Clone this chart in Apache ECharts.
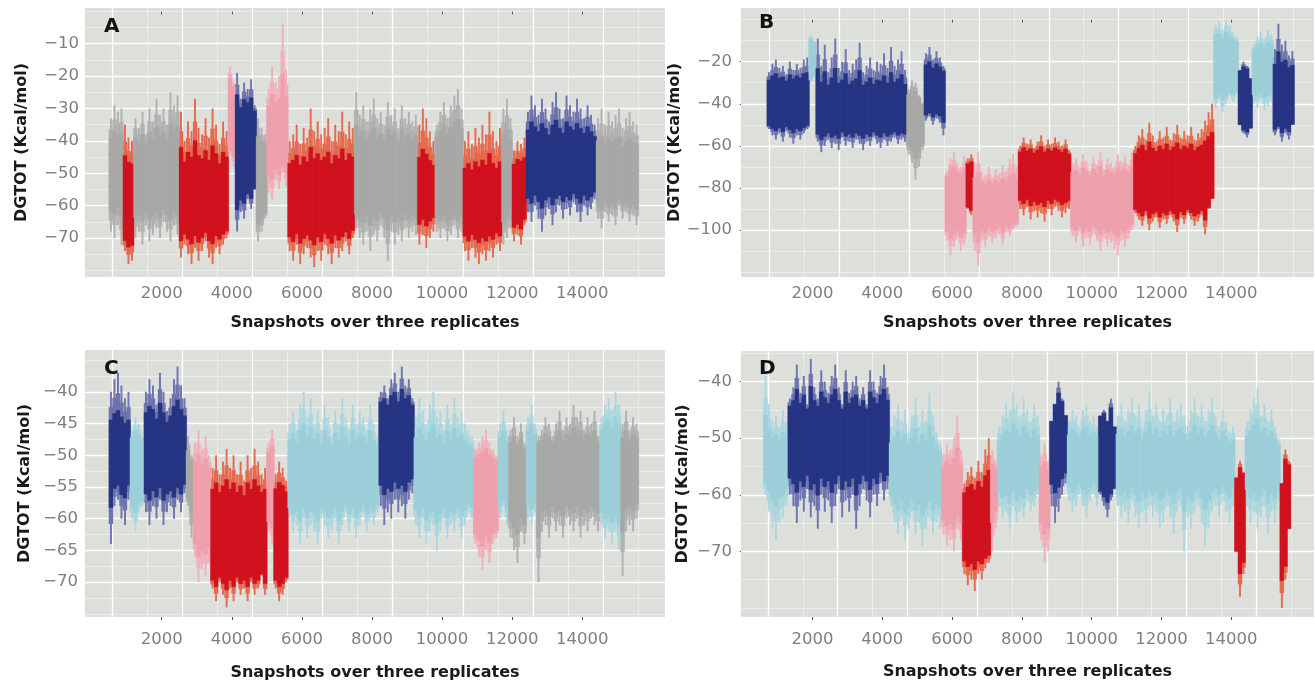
<!DOCTYPE html>
<html><head><meta charset="utf-8">
<script src="https://cdn.jsdelivr.net/npm/echarts@6/dist/echarts.min.js"></script>
<style>html,body{margin:0;padding:0;background:#fff}#c{width:1315px;height:687px}</style>
</head><body><div id="c"></div>
<script>
const BIN = 100;
const xTickLabels = [2000, 4000, 6000, 8000, 10000, 12000, 14000];

// ---------------- Panel A ----------------
const aStart = 500;
const aHigh = [
 -33,-29,-31,-30,
 -35,-39,-40,
 -33,-36,-31,-38,-30,-34,-27,-32,-30,-35,-25,-29,-26,
 -31,-40,-34,-37,-27,-36,-38,-33,-39,-30,-35,-41,-34,-37,
 -17,-22,
 -19,-27,-22,-24,-21,-29,
 -33,-36,-38,
 -24,-17,-22,-20,-4,-18,
 -40,-38,-35,-41,-36,-39,-30,-37,-34,-38,-36,-33,-40,-35,-37,-31,-38,-34,-36,
 -25,-32,-29,-34,-30,-27,-33,-31,-35,-28,-32,-30,-36,-29,-33,-31,-34,-32,
 -35,-30,-33,-37,-40,
 -35,-31,-28,-33,-29,-26,-24,-30,
 -40,-37,-41,-36,-39,-35,-38,-31,-37,-40,-36,
 -30,-27,-33,
 -43,-40,-41,-39,
 -31,-26,-29,-32,-27,-30,-34,-28,-25,-30,-33,-26,-29,-31,-27,-30,-33,-29,-32,-35,
 -33,-30,-35,-31,-34,-32,-30,-36,-33,-31,-34,-35
];
const aLow = [
 -68,-70,-66,-72,
 -74,-78,-77,
 -70,-68,-72,-66,-71,-69,-67,-70,-65,-68,-71,-66,-69,
 -76,-72,-75,-78,-73,-77,-74,-71,-76,-78,-73,-75,-72,-70,
 -44,-48,
 -68,-62,-64,-58,-61,-55,
 -71,-68,-64,
 -56,-58,-52,-55,-50,-54,
 -74,-77,-72,-78,-75,-73,-76,-79,-74,-77,-72,-75,-78,-73,-76,-74,-71,-75,-70,
 -67,-70,-72,-68,-74,-69,-71,-66,-70,-77,-68,-72,-69,-71,-67,-70,-68,-69,
 -72,-69,-73,-70,-68,
 -68,-70,-67,-71,-69,-66,-70,-68,
 -74,-77,-73,-76,-78,-75,-77,-74,-76,-72,-74,
 -72,-70,-67,
 -71,-69,-72,-66,
 -62,-65,-60,-64,-68,-63,-61,-66,-62,-60,-64,-61,-63,-59,-62,-65,-60,-63,-61,-58,
 -64,-67,-62,-65,-63,-66,-60,-64,-62,-65,-63,-66
];
// [start, end, colour group, dense-core low, dense-core high]
const aSegments = [
 [500,900,'gray',-62,-38],[900,1200,'red',-72,-46],[1200,2500,'gray',-63,-38],[2500,3900,'red',-70,-44],
 [3900,4100,'pink',-44,-22],[4100,4700,'blue',-58,-28],[4700,5000,'gray',-64,-40],[5000,5600,'pink',-50,-26],
 [5600,7500,'red',-70,-45],[7500,9300,'gray',-64,-38],[9300,9800,'red',-65,-45],[9800,10600,'gray',-64,-36],
 [10600,11700,'red',-70,-47],[11700,12000,'gray',-64,-38],[12000,12400,'red',-66,-46],
 [12400,14400,'blue',-58,-36],[14400,15600,'gray',-60,-40]
];
const aYTicks = [-70,-60,-50,-40,-30,-20,-10];
const aYMinor = [-80,-75,-65,-55,-45,-35,-25,-15,-5,0];
const aXGridMajor = [590,2590,4590,6590,8590,10590,12590,14590];
const aXGridMinor = [1590,3590,5590,7590,9590,11590,13590,15590];

// ---------------- Panel B ----------------
const bStart = 700;
const bHigh = [
 -25,-21,-19,-23,-22,-26,-20,-24,-21,-23,-19,-18,
 -7,-10,
 -9,-22,-12,-25,-18,-9,-23,-20,-14,-24,-21,-19,-11,-25,-22,-18,-24,-20,-21,-16,-23,-13,-22,-19,-15,-24,
 -33,-29,-30,-36,-40,
 -16,-13,-19,-15,-18,-22,
 -72,-66,-63,-68,-70,-65,
 -66,-64,
 -68,-63,-72,-74,-70,-75,-71,-73,-69,-72,-66,-64,-70,
 -60,-56,-59,-57,-61,-58,-55,-60,-57,-59,-56,-58,-60,-57,-62,
 -68,-66,-70,-64,-67,-72,-65,-69,-63,-71,-66,-68,-70,-64,-67,-65,-69,-63,
 -60,-55,-52,-57,-49,-55,-58,-53,-56,-51,-57,-54,-50,-56,-53,-55,-51,-57,-54,-52,-48,-44,-40,
 -2,-1,-5,0,-3,-6,-8,
 -24,-20,-22,-28,
 -12,-8,-6,-9,-5,-7,
 -14,-2,-12,-10,-17,-15
];
const bLow = [
 -52,-55,-57,-54,-58,-53,-56,-59,-55,-57,-54,-52,
 -30,-27,
 -58,-63,-60,-57,-61,-59,-62,-56,-60,-58,-61,-57,-59,-62,-58,-60,-56,-59,-61,-57,-60,-58,-56,-59,-57,-58,
 -64,-68,-76,-70,-62,
 -48,-46,-50,-47,-49,-55,
 -105,-112,-108,-104,-110,-107,
 -90,-93,
 -110,-117,-105,-108,-103,-106,-104,-102,-107,-101,-103,-100,-98,
 -90,-93,-89,-95,-91,-94,-92,-96,-90,-93,-89,-91,-94,-92,-90,
 -103,-106,-101,-108,-104,-107,-102,-105,-110,-104,-108,-106,-109,-112,-105,-108,-104,-100,
 -92,-95,-98,-93,-100,-96,-94,-99,-95,-97,-93,-96,-101,-94,-97,-92,-95,-98,-96,-93,-102,-90,-85,
 -42,-38,-44,-40,-36,-39,-35,
 -50,-54,-56,-52,
 -40,-42,-38,-43,-41,-39,
 -55,-52,-58,-54,-57,-50
];
const bSegments = [
 [700,1900,'blue',-52,-27],[1900,2100,'cyan',-28,-10],[2100,4700,'blue',-55,-28],[4700,5200,'gray',-62,-36],
 [5200,5800,'blue',-46,-22],[5800,6400,'pink',-102,-72],[6400,6600,'red',-90,-68],[6600,7900,'pink',-100,-76],
 [7900,9400,'red',-87,-62],[9400,11200,'pink',-100,-72],[11200,13500,'red',-92,-60],[13500,14200,'cyan',-36,-8],
 [14200,14600,'blue',-52,-24],[14600,15200,'cyan',-36,-12],[15200,15800,'blue',-52,-20]
];
const bYTicks = [-100,-80,-60,-40,-20];
const bYMinor = [-120,-110,-90,-70,-50,-30,-10,0];
const bXGridMajor = [770,2770,4770,6770,8770,10770,12770,14770];
const bXGridMinor = [1770,3770,5770,7770,9770,11770,13770,15770];

// ---------------- Panel C ----------------
const cStart = 500;
const cHigh = [
 -40,-38,-37,-39,-41,-40,
 -46,-44,-45,-47,
 -40,-38,-39,-42,-37,-40,-43,-41,-38,-36,-39,-41,
 -47,-50,
 -48,-46,-49,-47,-50,
 -52,-50,-53,-51,-49,-52,-50,-53,-51,-54,-50,-52,-49,-51,-53,-52,
 -48,-46,
 -53,-51,-52,-54,
 -45,-43,-46,-42,-40,-44,-41,-45,-43,-46,-42,-44,-47,-43,-45,-41,-44,-46,-42,-45,-43,-44,-46,-42,-45,-47,
 -40,-39,-41,-38,-37,-40,-36,-39,-38,-41,
 -44,-41,-43,-45,-42,-40,-44,-43,-46,-42,-45,-41,-44,-43,-45,-46,-47,
 -49,-48,-47,-46,-48,-49,-50,
 -45,-43,-46,
 -46,-44,-47,-45,-48,
 -44,-42,-45,
 -47,-46,-44,-45,-47,-45,-43,-46,-44,-45,-42,-44,-43,-46,-44,-45,-43,-47,
 -44,-42,-41,-43,-40,-42,
 -45,-43,-46,-44,-45
];
const cLow = [
 -64,-58,-57,-60,-61,-57,
 -60,-62,-59,-58,
 -59,-61,-58,-60,-57,-61,-59,-58,-60,-57,-59,-56,
 -58,-63,
 -66,-70,-68,-69,-67,
 -71,-73,-70,-72,-74,-71,-73,-70,-72,-71,-73,-70,-72,-71,-69,-72,
 -62,-64,
 -71,-73,-72,-70,
 -60,-62,-61,-64,-60,-63,-61,-62,-64,-60,-61,-63,-62,-60,-64,-61,-59,-62,-60,-63,-61,-59,-62,-60,-61,-59,
 -58,-61,-59,-60,-57,-59,-58,-60,-57,-56,
 -61,-63,-60,-64,-62,-61,-65,-62,-60,-63,-61,-62,-60,-63,-61,-59,-60,
 -64,-66,-68,-65,-67,-64,-63,
 -60,-58,-61,
 -63,-65,-67,-62,-64,
 -60,-61,-59,
 -70,-62,-61,-63,-60,-62,-61,-63,-60,-61,-62,-60,-63,-61,-62,-60,-61,-62,
 -61,-63,-62,-64,-62,-65,
 -69,-62,-61,-62,-60
];
const cSegments = [
 [500,1100,'blue',-56,-44],[1100,1500,'cyan',-58,-47],[1500,2700,'blue',-56,-43],[2700,2900,'gray',-58,-50],
 [2900,3400,'pink',-65,-51],[3400,5000,'red',-70,-55],[5000,5200,'pink',-61,-49],[5200,5600,'red',-70,-55],
 [5600,8200,'cyan',-59,-47],[8200,9200,'blue',-55,-41],[9200,10900,'cyan',-59,-47],[10900,11600,'pink',-63,-50],
 [11600,11900,'cyan',-58,-47],[11900,12400,'gray',-61,-48],[12400,12700,'cyan',-58,-46],[12700,14500,'gray',-59,-47],
 [14500,15100,'cyan',-60,-45],[15100,15600,'gray',-59,-47]
];
const cYTicks = [-70,-65,-60,-55,-50,-45,-40];
const cYMinor = [-75,-72.5,-67.5,-62.5,-57.5,-52.5,-47.5,-42.5,-37.5,-35];
const cXGridMajor = [590,2590,4590,6590,8590,10590,12590,14590];
const cXGridMinor = [1590,3590,5590,7590,9590,11590,13590,15590];

// ---------------- Panel D ----------------
const dStart = 600;
const dHigh = [
 -39,-44,-47,-46,-48,-45,-47,
 -43,-41,-37,-42,-39,-44,-36,-41,-43,-38,-40,-42,-39,-37,-41,-44,-38,-42,-40,-39,-43,-41,-44,-38,-40,-42,-39,-37,-41,
 -48,-46,-44,-47,-45,-49,-46,-43,-48,-45,-47,-42,-46,-49,-51,
 -53,-51,-52,-50,-46,-52,
 -58,-56,-55,-57,-54,-56,-52,-50,
 -52,-54,
 -48,-46,-44,-45,-42,-44,-46,-43,-45,-47,-44,-46,
 -53,-51,-54,
 -47,-44,-40,-43,-46,
 -47,-45,-46,-48,-45,-44,-47,-46,-48,
 -46,-45,-47,-43,-48,
 -46,-44,-47,-45,-43,-46,-44,-48,-45,-42,-46,-44,-47,-45,-46,-43,-47,-45,-44,-46,-48,-45,-43,-46,-44,-47,-45,-43,-46,-48,-45,-47,-49,-48,
 -57,-54,-56,
 -47,-45,-43,-41,-46,-44,-47,-45,-48,-50,
 -58,-52,-54
];
const dLow = [
 -60,-63,-66,-68,-65,-64,-62,
 -60,-62,-65,-61,-63,-59,-64,-62,-66,-60,-63,-61,-65,-62,-59,-64,-61,-63,-60,-66,-62,-59,-61,-64,-60,-62,-58,-61,-59,
 -62,-65,-67,-64,-68,-66,-63,-67,-65,-69,-66,-64,-67,-65,-66,
 -67,-69,-68,-70,-66,-68,
 -74,-76,-75,-77,-74,-75,-73,-72,
 -70,-66,
 -62,-64,-63,-66,-62,-65,-63,-64,-61,-63,-62,-60,
 -68,-72,-70,
 -62,-65,-63,-60,-58,
 -61,-63,-62,-60,-62,-64,-61,-60,-62,
 -60,-62,-64,-61,-59,
 -62,-64,-63,-65,-61,-64,-66,-63,-65,-62,-64,-63,-66,-65,-62,-64,-67,-63,-62,-70,-64,-66,-63,-62,-65,-69,-66,-63,-62,-64,-61,-63,-65,-62,
 -70,-78,-74,
 -62,-65,-63,-66,-64,-62,-67,-63,-65,-61,
 -80,-75,-66
];
const dSegments = [
 [600,1300,'cyan',-60,-49],[1300,4200,'blue',-58,-43],[4200,5700,'cyan',-62,-50],[5700,6300,'pink',-65,-54],
 [6300,7100,'red',-72,-58],[7100,7300,'pink',-64,-55],[7300,8500,'cyan',-60,-49],[8500,8800,'pink',-66,-55],
 [8800,9300,'blue',-58,-44],[9300,10200,'cyan',-59,-49],[10200,10700,'blue',-60,-46],[10700,14100,'cyan',-60,-49],
 [14100,14400,'red',-72,-56],[14400,15400,'cyan',-60,-49],[15400,15700,'red',-72,-55]
];
const dYTicks = [-70,-60,-50,-40];
const dYMinor = [-80,-75,-65,-55,-45,-35];
const dXGridMajor = [720,2720,4720,6720,8720,10720,12720,14720];
const dXGridMinor = [1720,3720,5720,7720,9720,11720,13720,15720];

// ---------------- styling ----------------
// [sparse tip colour, dense core colour]
const COLORS = {
  gray: ['#b1b2af', '#a8a9a6'],
  red:  ['#e56a4e', '#d0121f'],
  blue: ['#6e74ae', '#263583'],
  pink: ['#f2b0ba', '#eea0ad'],
  cyan: ['#abd7df', '#9ccfd8']
};
const FONT = '"DejaVu Sans", Verdana, sans-serif';
const TIP_WIDTH = 0.55;

function check(name, start, hi, lo, segs) {
  if (hi.length !== lo.length) throw new Error(name + ' length mismatch ' + hi.length + ' vs ' + lo.length);
  const end = start + hi.length * BIN;
  if (end !== segs[segs.length - 1][1]) throw new Error(name + ' end mismatch ' + end);
}

function build(start, hi, lo, segs) {
  const data = [], types = [];
  const segOf = i => segs.find(g => start + i * BIN >= g[0] && start + i * BIN < g[1]);
  const means = new Map();
  segs.forEach(g => {
    let sh = 0, sl = 0, n = 0;
    for (let i = 0; i < hi.length; i++) if (segOf(i) === g) { sh += hi[i]; sl += lo[i]; n++; }
    means.set(g, [sh / n, sl / n]);
  });
  for (let i = 0; i < hi.length; i++) {
    const x0 = start + i * BIN;
    const s = segOf(i);
    const m = means.get(s);
    let ch = Math.min(hi[i], s[4] + 0.5 * (hi[i] - m[0]));
    let cl = Math.max(lo[i], s[3] + 0.5 * (lo[i] - m[1]));
    if (ch < cl) ch = cl;
    const mh = ch + 0.45 * (hi[i] - ch);
    const ml = cl + 0.45 * (lo[i] - cl);
    data.push([x0, x0 + BIN, lo[i], hi[i], cl, ch, ml, mh]);
    types.push(s[2]);
  }
  return { data, types };
}

// layer: 0 = sparse spikes (full extent), 1 = medium band, 2 = dense core
function makeRender(types, layer) {
  return function (params, api) {
    const c = COLORS[types[params.dataIndex]];
    const x0 = api.value(0), x1 = api.value(1);
    const loDim = [2, 6, 4][layer], hiDim = [3, 7, 5][layer];
    const p0 = api.coord([x0, api.value(hiDim)]);
    const p1 = api.coord([x1, api.value(loDim)]);
    const w = p1[0] - p0[0];
    if (layer === 0) {
      return { type: 'rect', shape: { x: p0[0] + w * (1 - TIP_WIDTH) / 2, y: p0[1], width: w * TIP_WIDTH, height: p1[1] - p0[1] },
               style: { fill: c[0] } };
    }
    const col = layer === 1 ? c[0] : c[1];
    return { type: 'rect', shape: { x: p0[0] - 0.3, y: p0[1], width: w + 0.6, height: p1[1] - p0[1] },
             style: { fill: col, stroke: col, lineWidth: 0.3 } };
  };
}

const majorLine = { color: '#ffffff', width: 1.3, type: 'solid', opacity: 1 };
const minorLine = { color: '#ffffff', width: 0.6, type: 'solid', opacity: 0.75 };

function gridLines(yMajor, yMinor, xMajor, xMinor) {
  const d = [];
  yMinor.forEach(v => d.push({ yAxis: v, lineStyle: minorLine }));
  xMinor.forEach(v => d.push({ xAxis: v, lineStyle: minorLine }));
  yMajor.forEach(v => d.push({ yAxis: v, lineStyle: majorLine }));
  xMajor.forEach(v => d.push({ xAxis: v, lineStyle: majorLine }));
  return d;
}

const panels = [
  { name: 'A', start: aStart, hi: aHigh, lo: aLow, segs: aSegments, yT: aYTicks, yM: aYMinor, xG: aXGridMajor, xM: aXGridMinor,
    grid: { left: 85, top: 8, width: 580, height: 269 }, x: [-190, 16360], y: [-82, 1],
    yGap: 55, yLabelMargin: 6, xLabelMargin: 8, xGap: 38, letter: [104, 17] },
  { name: 'B', start: bStart, hi: bHigh, lo: bLow, segs: bSegments, yT: bYTicks, yM: bYMinor, xG: bXGridMajor, xM: bXGridMinor,
    grid: { left: 741, top: 8, width: 573, height: 269 }, x: [-50, 16370], y: [-122.3, 5.5],
    yGap: 50, yLabelMargin: 9, xLabelMargin: 8, xGap: 38, letter: [759, 13] },
  { name: 'C', start: cStart, hi: cHigh, lo: cLow, segs: cSegments, yT: cYTicks, yM: cYMinor, xG: cXGridMajor, xM: cXGridMinor,
    grid: { left: 85, top: 350, width: 580, height: 267 }, x: [-190, 16360], y: [-75.5, -33.4],
    yGap: 52, yLabelMargin: 7, xLabelMargin: 14, xGap: 48, letter: [104, 359] },
  { name: 'D', start: dStart, hi: dHigh, lo: dLow, segs: dSegments, yT: dYTicks, yM: dYMinor, xG: dXGridMajor, xM: dXGridMinor,
    grid: { left: 741, top: 351, width: 573, height: 266 }, x: [-50, 16370], y: [-81.6, -34.6],
    yGap: 50, yLabelMargin: 9, xLabelMargin: 14, xGap: 47, letter: [759, 359] }
];

const option = { animation: false, backgroundColor: '#ffffff', grid: [], xAxis: [], yAxis: [], series: [], title: [] };
const minus = v => String(v).replace('-', '\u2212');

panels.forEach((p, i) => {
  check(p.name, p.start, p.hi, p.lo, p.segs);
  const built = build(p.start, p.hi, p.lo, p.segs);
  option.grid.push(Object.assign({ show: true, backgroundColor: '#dddfdb', borderWidth: 0 }, p.grid));
  option.xAxis.push({
    gridIndex: i, type: 'value', min: p.x[0], max: p.x[1],
    axisLine: { show: false },
    axisTick: { show: true, length: 3, customValues: xTickLabels, lineStyle: { color: '#555555', width: 1 } },
    axisLabel: { customValues: xTickLabels, formatter: v => String(v), color: '#7f7f7f', fontSize: 16.5, fontFamily: FONT, margin: p.xLabelMargin },
    splitLine: { show: false },
    name: 'Snapshots over three replicates', nameLocation: 'middle', nameGap: p.xGap,
    nameTextStyle: { color: '#1a1a1a', fontSize: 16, fontWeight: 'bold', fontFamily: FONT }
  });
  option.yAxis.push({
    gridIndex: i, type: 'value', min: p.y[0], max: p.y[1],
    axisLine: { show: false },
    axisTick: { show: true, length: 3, customValues: p.yT, lineStyle: { color: '#555555', width: 1 } },
    axisLabel: { customValues: p.yT, formatter: minus, color: '#7f7f7f', fontSize: 16.5, fontFamily: FONT, margin: p.yLabelMargin },
    splitLine: { show: false },
    name: 'DGTOT (Kcal/mol)', nameLocation: 'middle', nameGap: p.yGap, nameRotate: 90,
    nameTextStyle: { color: '#1a1a1a', fontSize: 16, fontWeight: 'bold', fontFamily: FONT }
  });
  [0, 1, 2].forEach(layer => {
    const s = {
      type: 'custom', xAxisIndex: i, yAxisIndex: i, z: 3 + layer, silent: true,
      renderItem: makeRender(built.types, layer),
      encode: { x: [0, 1], y: [2, 3, 4, 5, 6, 7] },
      data: built.data
    };
    if (layer === 0) {
      s.markLine = {
        silent: true, z: 1, symbol: ['none', 'none'], label: { show: false }, animation: false,
        data: gridLines(p.yT, p.yM, p.xG, p.xM)
      };
    }
    option.series.push(s);
  });
  option.title.push({
    text: p.name, left: p.letter[0], top: p.letter[1], padding: 0,
    textStyle: { fontSize: 20, fontWeight: 'bold', color: '#111111', fontFamily: FONT }
  });
});

const chart = echarts.init(document.getElementById('c'), null, { renderer: 'canvas' });
chart.setOption(option);
</script>
</body></html>
